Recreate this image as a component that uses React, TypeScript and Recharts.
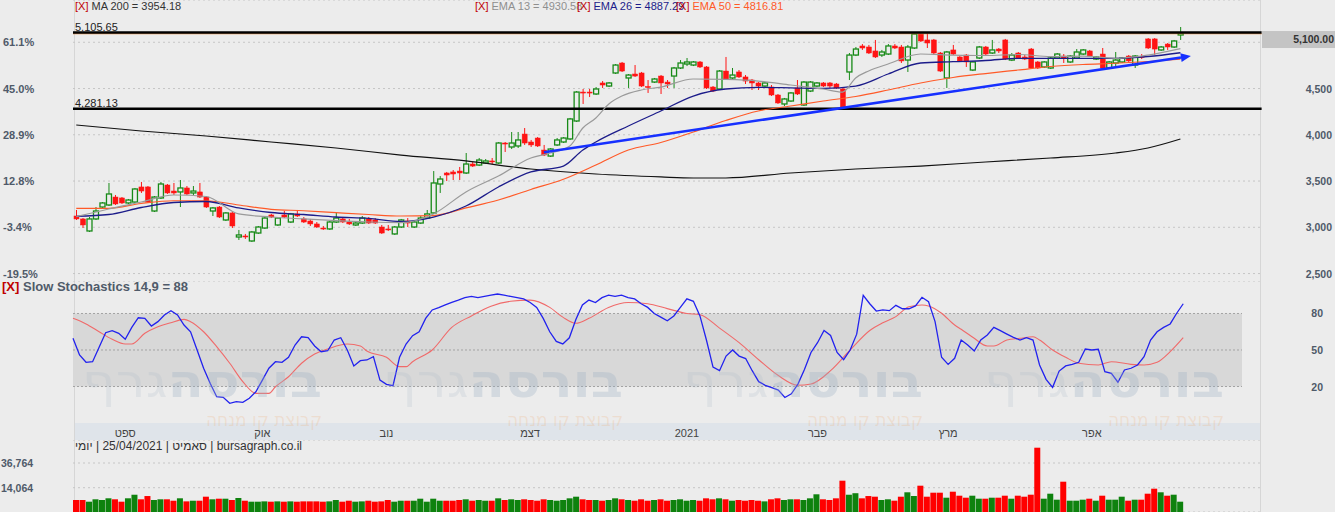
import {
  ComposedChart,
  Bar,
  Line,
  XAxis,
  YAxis,
  CartesianGrid,
  ReferenceLine,
  ReferenceArea,
} from "recharts";

const W = 1335;
const SLOTS = 183; // trading days + empty room on the right
const BG = "#ececec";
const UP = "#178a17";
const DOWN = "#ff1414";
const AXIS_TXT = "#4f5a69";
const FONT = "Arial, 'Liberation Sans', sans-serif";

// daily candles, one per trading day up to 25/04/2021
const OPEN = [
  3122, 3090, 2960, 3090, 3219, 3241, 3327, 3317, 3263, 3273,
  3436, 3436, 3176, 3317, 3457, 3392, 3382, 3425, 3371, 3382,
  3327, 3176, 3219, 3079, 3155, 2895, 2906, 2852, 2938, 2992,
  3133, 3025, 3133, 3057, 3144, 3090, 3068, 3036, 2992, 2982,
  3057, 3090, 3057, 3025, 3046, 3090, 3079, 3003, 2982, 2928,
  3003, 3068, 3003, 3046, 3100, 3155, 3468, 3587, 3598, 3608,
  3587, 3684, 3673, 3695, 3717, 3695, 3911, 3868, 3879, 4008,
  3922, 3965, 3835, 3770, 3890, 3922, 3955, 4149, 4462, 4462,
  4441, 4560, 4527, 4668, 4776, 4614, 4657, 4668, 4522, 4570,
  4635, 4570, 4635, 4722, 4765, 4754, 4787, 4733, 4516, 4495,
  4689, 4614, 4679, 4625, 4592, 4560, 4527, 4516, 4430, 4333,
  4365, 4506, 4322, 4473, 4527, 4560, 4560, 4549, 4495, 4679,
  4862, 4960, 4949, 4906, 4862, 4873, 4960, 4949, 4808, 4938,
  5089, 5025, 5025, 4884, 4614, 4917, 4841, 4862, 4700, 4830,
  4949, 4884, 4927, 5025, 4808, 4884, 4841, 4927, 4787, 4733,
  4722, 4830, 4851, 4787, 4830, 4873, 4906, 4819, 4873, 4722,
  4776, 4787, 4851, 4754, 4846, 5036, 5036, 4917, 4981, 4949,
  5079,
];
const HIGH = [
  3187, 3100, 3111, 3219, 3273, 3479, 3349, 3327, 3306, 3425,
  3490, 3446, 3338, 3490, 3468, 3479, 3511, 3446, 3446, 3479,
  3338, 3219, 3230, 3165, 3165, 2971, 2928, 2960, 3014, 3111,
  3144, 3111, 3176, 3155, 3187, 3111, 3090, 3057, 3014, 3068,
  3155, 3111, 3090, 3057, 3122, 3111, 3100, 3025, 3025, 3014,
  3090, 3100, 3068, 3122, 3187, 3608, 3554, 3598, 3619, 3652,
  3803, 3706, 3749, 3738, 3749, 3922, 3922, 4030, 4030, 4073,
  3944, 3976, 3890, 3857, 3965, 3976, 4182, 4473, 4495, 4495,
  4516, 4581, 4570, 4765, 4787, 4657, 4754, 4679, 4592, 4614,
  4646, 4592, 4733, 4808, 4830, 4797, 4797, 4743, 4527, 4700,
  4841, 4722, 4700, 4646, 4603, 4570, 4570, 4538, 4441, 4398,
  4462, 4592, 4581, 4581, 4570, 4570, 4570, 4560, 4506, 4884,
  4949, 4981, 4971, 5025, 4917, 4981, 4981, 4971, 4971, 5111,
  5111, 5100, 5036, 4895, 4906, 4971, 4851, 4873, 4797, 4960,
  4960, 5025, 4938, 5036, 4884, 4895, 4862, 4938, 4797, 4797,
  4841, 4884, 4873, 4862, 4927, 4927, 4917, 4851, 4938, 4797,
  4895, 4841, 4862, 4862, 4873, 5046, 5046, 4960, 4992, 5025,
  5165,
];
const LOW = [
  3079, 2992, 2949, 3079, 3209, 3230, 3241, 3252, 3252, 3263,
  3371, 3263, 3165, 3306, 3360, 3349, 3219, 3349, 3349, 3317,
  3209, 3122, 3100, 3068, 2992, 2863, 2874, 2841, 2928, 2982,
  3100, 3014, 3100, 3046, 3111, 3046, 3014, 2992, 2971, 2971,
  3046, 3046, 3025, 3014, 3036, 3036, 3036, 2928, 2960, 2917,
  2992, 3003, 2992, 3036, 3090, 3144, 3371, 3500, 3511, 3511,
  3576, 3652, 3662, 3684, 3684, 3684, 3814, 3846, 3857, 3890,
  3868, 3868, 3770, 3760, 3879, 3911, 3944, 4138, 4333, 4408,
  4430, 4506, 4516, 4657, 4679, 4506, 4625, 4516, 4452, 4560,
  4441, 4506, 4506, 4711, 4743, 4743, 4722, 4495, 4462, 4484,
  4592, 4603, 4614, 4549, 4484, 4484, 4516, 4419, 4333, 4311,
  4355, 4430, 4311, 4462, 4516, 4516, 4506, 4495, 4279, 4592,
  4851, 4917, 4873, 4830, 4841, 4862, 4927, 4776, 4679, 4927,
  5003, 4938, 4873, 4679, 4506, 4862, 4787, 4733, 4689, 4819,
  4862, 4873, 4884, 4808, 4797, 4819, 4808, 4711, 4711, 4722,
  4711, 4819, 4776, 4776, 4819, 4862, 4841, 4808, 4711, 4711,
  4722, 4776, 4787, 4722, 4819, 4927, 4862, 4906, 4917, 4938,
  5025,
];
const CLOSE = [
  3090, 3025, 3090, 3176, 3263, 3360, 3252, 3263, 3295, 3414,
  3392, 3273, 3327, 3468, 3371, 3371, 3425, 3360, 3392, 3327,
  3219, 3209, 3111, 3155, 3014, 2917, 2895, 2949, 3003, 3100,
  3111, 3100, 3111, 3144, 3122, 3057, 3036, 3003, 2987, 3057,
  3100, 3057, 3036, 3046, 3100, 3046, 3046, 2938, 2976, 3003,
  3079, 3046, 3057, 3100, 3144, 3479, 3522, 3565, 3576, 3587,
  3684, 3662, 3727, 3717, 3706, 3911, 3900, 3911, 3944, 3911,
  3890, 3879, 3781, 3846, 3944, 3965, 4171, 4462, 4452, 4452,
  4495, 4538, 4560, 4754, 4689, 4646, 4635, 4527, 4516, 4603,
  4560, 4549, 4722, 4776, 4787, 4787, 4733, 4506, 4473, 4689,
  4603, 4646, 4625, 4581, 4560, 4527, 4560, 4430, 4344, 4387,
  4452, 4441, 4570, 4570, 4560, 4527, 4527, 4506, 4290, 4862,
  4927, 4938, 4884, 4841, 4895, 4960, 4938, 4798, 4949, 5089,
  5014, 4992, 4884, 4689, 4895, 4873, 4798, 4787, 4787, 4949,
  4873, 4917, 4906, 4819, 4862, 4830, 4819, 4722, 4722, 4787,
  4830, 4873, 4830, 4851, 4895, 4917, 4851, 4841, 4722, 4787,
  4808, 4830, 4798, 4851, 4841, 4938, 4927, 4949, 4949, 5014,
  5100,
];
const VOLUME = [
  2760, 2760, 1200, 3400, 2760, 4320, 3400, 1200, 4320, 7600,
  3400, 6400, 2760, 3400, 3400, 2100, 4320, 1500, 2100, 2100,
  5800, 3400, 3950, 3950, 2760, 4600, 2100, 1200, 1200, 1500,
  1200, 1500, 1200, 1500, 1200, 1500, 1500, 1500, 1200, 1500,
  2760, 1200, 2100, 1200, 1500, 2100, 1200, 1500, 2760, 1200,
  2100, 2100, 2100, 3950, 1200, 3950, 2100, 2100, 2100, 2760,
  3400, 2100, 2760, 2100, 2100, 4300, 2760, 3400, 2760, 3400,
  2760, 2100, 3400, 2760, 2100, 2760, 4300, 5800, 3400, 2760,
  2760, 2100, 2760, 4300, 3400, 2760, 2100, 3400, 2100, 2760,
  3400, 2100, 2760, 3400, 2100, 2760, 2100, 4300, 3400, 4300,
  3400, 2100, 2760, 2100, 2760, 2100, 1500, 3400, 4300, 2760,
  3400, 3400, 2760, 4300, 8000, 3400, 2760, 4300, 20500, 7600,
  9000, 4300, 6400, 5800, 2760, 3400, 2120, 5790, 9840, 6440,
  15900, 5790, 9470, 9470, 4870, 10390, 6710, 4870, 6710, 3960,
  3960, 4870, 4870, 6710, 3960, 6710, 5790, 7630, 50820, 3960,
  8550, 3040, 19580, 2120, 2120, 3040, 3960, 2120, 6710, 3040,
  3040, 5790, 2120, 3040, 3040, 8550, 13150, 9840, 6710, 7630,
  1200,
];

// moving averages: [day index, value]
const MA200: [number, number][] = [
  [0, 4106], [10, 4041], [20, 3987], [30, 3922], [40, 3857], [50, 3781],
  [60, 3717], [70, 3630], [80, 3576], [90, 3544], [95, 3533], [100, 3533],
  [110, 3587], [120, 3630], [130, 3662], [140, 3706], [150, 3749],
  [160, 3803], [165, 3857], [170, 3954],
];
const EMA13: [number, number][] = [
  [0, 3115], [5, 3198], [10, 3273], [15, 3349], [20, 3333], [25, 3144],
  [30, 3111], [35, 3090], [40, 3071], [45, 3057], [50, 3050], [55, 3144],
  [60, 3382], [65, 3554], [70, 3749], [73, 3803], [76, 3879], [78, 4073],
  [80, 4181], [82, 4333], [84, 4419], [87, 4484], [90, 4516], [95, 4603],
  [100, 4598], [105, 4581], [110, 4538], [115, 4495], [118, 4462],
  [120, 4614], [122, 4690], [125, 4765], [130, 4873], [135, 4862],
  [140, 4857], [145, 4868], [150, 4846], [155, 4851], [160, 4827],
  [165, 4862], [170, 4931],
];
const EMA26: [number, number][] = [
  [0, 3119], [5, 3138], [10, 3214], [15, 3268], [20, 3279], [25, 3209],
  [30, 3160], [35, 3138], [40, 3111], [45, 3097], [50, 3063], [55, 3111],
  [60, 3230], [65, 3436], [70, 3598], [75, 3662], [78, 3836], [80, 3922],
  [85, 4095], [90, 4257], [95, 4419], [100, 4495], [105, 4513], [110, 4508],
  [115, 4502], [120, 4527], [125, 4657], [130, 4776], [135, 4790],
  [140, 4803], [145, 4827], [150, 4827], [155, 4827], [160, 4827],
  [165, 4846], [170, 4887],
];
const EMA50: [number, number][] = [
  [0, 3205], [5, 3205], [10, 3257], [15, 3287], [20, 3287], [25, 3241],
  [30, 3194], [35, 3179], [40, 3158], [45, 3138], [50, 3122], [55, 3127],
  [60, 3209], [65, 3295], [70, 3409], [75, 3519], [80, 3673], [85, 3836],
  [90, 3917], [95, 4030], [100, 4154], [105, 4257], [110, 4311],
  [115, 4365], [120, 4414], [125, 4484], [130, 4560], [135, 4619],
  [140, 4662], [145, 4700], [150, 4738], [155, 4760], [160, 4773],
  [165, 4792], [170, 4817],
];

// slow stochastics 14,9
const STOCH_K = [
  59.6, 45.9, 39.9, 40.4, 52.2, 64.2, 65.9, 63.7, 58.8, 68.6,
  76.5, 76, 69.7, 73.3, 78.8, 82.3, 78.8, 70.5, 65, 50,
  35, 22.6, 11.6, 11.1, 6.2, 7.5, 7, 10.3, 15.7, 25.3,
  35, 40.4, 39.9, 44, 54.1, 60.9, 60.1, 53.3, 48.6, 49.4,
  58.2, 60.1, 50, 36.9, 41.2, 41.8, 44.5, 25.3, 21.8, 20.7,
  44, 54.9, 61.8, 65, 76, 82.9, 84.8, 87, 89.2, 91,
  93, 94, 93, 94, 95, 96, 95, 94, 93, 92,
  89, 85, 76, 65, 57, 55, 60, 75, 87, 91,
  89, 93, 95, 94, 95, 93, 92, 88, 85, 80,
  77, 74, 78, 85, 92, 90, 78, 58, 36, 33,
  45, 50, 45, 43, 33, 24, 21, 19, 17, 11,
  14, 22, 34, 48, 56, 66, 62, 48, 42, 50,
  63, 95, 88, 82, 82.9, 82.3, 86.7, 83.9, 83.9, 86.2,
  93.3, 89.7, 73.3, 44, 38.2, 43.2, 58.2, 54.1, 49.2, 58.2,
  62.3, 68.6, 65.9, 63.1, 60.4, 58.2, 60.1, 58.2, 37.7, 25.9,
  19.3, 32.7, 36.9, 38.2, 39.9, 50.8, 50, 50.6, 32.2, 30.9,
  23.5, 33.6, 35, 37.7, 44.5, 58.2, 65, 68.6, 71.4, 80.2,
  88,
];
const STOCH_D: [number, number][] = [
  [0, 76], [2, 71.4], [4, 65], [6, 58.8], [8, 54.9], [9, 54.9], [11, 63.7],
  [13, 69.1], [15, 72.4], [17, 75.2], [18, 73.3], [20, 65], [22, 52.7],
  [24, 39.1], [26, 24], [28, 14.4], [30, 14.4], [31, 19.8], [33, 28],
  [35, 39.1], [37, 46.7], [39, 50.8], [42, 54.9], [44, 53.3], [45, 49.2],
  [48, 44], [50, 36.3], [51, 36.3], [52, 40.4], [55, 50], [58, 68.6],
  [61, 78], [64, 86], [67, 90], [70, 91], [73, 85], [75, 77], [77, 72],
  [79, 76], [82, 85], [85, 89], [88, 88], [91, 84], [94, 80], [96, 79],
  [99, 68], [102, 56], [105, 42], [108, 29], [111, 21], [113, 22],
  [116, 33], [119, 50], [122, 66], [124, 72.4], [126, 77.4], [128, 85.6],
  [130, 87], [131, 86.2], [133, 80.2], [135, 70.5], [136, 67], [138, 59.6],
  [140, 53.3], [141, 53.3], [143, 58.2], [145, 59.6], [147, 60.9],
  [148, 58.2], [150, 50], [152, 44], [154, 39.1], [157, 37.7], [159, 40.4],
  [162, 38.2], [164, 37.7], [166, 39.9], [168, 48.6], [170, 60.1],
];

const MONTH_IDX = [8, 29, 48, 70, 94, 114, 134, 156];
const MONTH_LABEL = ["ספט", "אוק", "נוב", "דצמ", "2021", "פבר", "מרץ", "אפר"];

const PRICE_TICKS = [2500, 3000, 3500, 4000, 4500, 5000];
const RIGHT_TICKS = [2500, 3000, 3500, 4000, 4500];
const BASE = 3104; // reference close for the % scale
const LAST = 5100;
const RESIST = 5105.65;
const SUPPORT = 4281.13;
const RESIST_SHADOW = 5092;
const TREND: [number, number][] = [[72, 3811], [171, 4844]];
const STOCH_TICKS = [20, 50, 80];
const VOL_TICKS = [14064, 36764];

const PRICE_DOMAIN: [number, number] = [2408.5, 5457];
const STOCH_DOMAIN: [number, number] = [-9.98, 105.87];
const VOL_FLOOR = -8269;
const VOL_DOMAIN: [number, number] = [VOL_FLOOR, 57902];

type Row = { i: number; [k: string]: number | undefined };
const rows: Row[] = Array.from({ length: SLOTS }, (_, i) => {
  const r: Row = { i };
  if (i < CLOSE.length) {
    r.o = OPEN[i];
    r.h = HIGH[i];
    r.l = LOW[i];
    r.c = CLOSE[i];
    r.v = VOLUME[i];
    r.k = STOCH_K[i];
  }
  return r;
});
const put = (pts: [number, number][], key: string) =>
  pts.forEach(([i, v]) => {
    rows[i][key] = v;
  });
put(MA200, "ma200");
put(EMA13, "ema13");
put(EMA26, "ema26");
put(EMA50, "ema50");
put(STOCH_D, "d");

const pct = (p: number) => `${((p / BASE - 1) * 100).toFixed(1)}%`;
const num = (p: number, d = 0) =>
  p.toLocaleString("en-US", { minimumFractionDigits: d, maximumFractionDigits: d });

function Candle(props: any) {
  const { x, y, width, height, payload } = props;
  if (!payload || payload.h == null) return null;
  const { o, h, l, c } = payload;
  const k = height / (h - l || 1);
  const cx = x + width / 2;
  const up = c >= o;
  const top = y + (h - Math.max(o, c)) * k;
  const bot = y + (h - Math.min(o, c)) * k;
  const col = up ? UP : DOWN;
  return (
    <g>
      <line x1={cx} x2={cx} y1={y} y2={y + height} stroke={col} strokeWidth={1} />
      <rect
        x={x}
        y={top}
        width={width}
        height={Math.max(1, bot - top)}
        fill={up ? BG : DOWN}
        stroke={col}
        strokeWidth={up ? 1.3 : 0.5}
      />
    </g>
  );
}

function VolBar(props: any) {
  const { x, y, width, height, payload } = props;
  if (!payload || payload.v == null) return null;
  return (
    <rect
      x={x}
      y={y}
      width={width}
      height={height}
      fill={payload.c >= payload.o ? "#0e820e" : "#ff0000"}
    />
  );
}

function TrendArrow(props: any) {
  const { x1, y1, x2, y2 } = props;
  const a = Math.atan2(y2 - y1, x2 - x1);
  const tx = x2 + 4 * Math.cos(a);
  const ty = y2 + 4 * Math.sin(a);
  const bx = tx - 10 * Math.cos(a);
  const by = ty - 10 * Math.sin(a);
  const hw = 4.5;
  return (
    <g>
      <line x1={x1} y1={y1} x2={bx} y2={by} stroke="#1630ff" strokeWidth={2.6} />
      <polygon
        points={`${tx},${ty} ${bx + hw * Math.sin(a)},${by - hw * Math.cos(a)} ${bx - hw * Math.sin(a)},${by + hw * Math.cos(a)}`}
        fill="#1630ff"
      />
    </g>
  );
}

const LeftPctTick = (p: any) => (
  <text x={3} y={p.y + 4} fontSize={11} fontWeight={600} fill={AXIS_TXT} textAnchor="start">
    {pct(p.payload.value)}
  </text>
);

const RightPriceTick = (p: any) => {
  const v = p.payload.value;
  if (v === LAST) {
    return (
      <g>
        <rect x={1262} y={p.y - 2} width={73} height={17} fill="#c4c4c4" />
        <text x={1334} y={p.y + 10} fontSize={10.5} fontWeight={600} fill="#333" textAnchor="end">
          {num(v, 2)}
        </text>
      </g>
    );
  }
  return (
    <text x={1332} y={p.y + 4} fontSize={10.5} fontWeight={600} fill={AXIS_TXT} textAnchor="end">
      {num(v)}
    </text>
  );
};

const StochTick = (p: any) => (
  <text x={1323} y={p.y + 4} fontSize={10.5} fontWeight={600} fill={AXIS_TXT} textAnchor="end">
    {p.payload.value}
  </text>
);

const VolTick = (p: any) => (
  <text x={1} y={p.y + 4} fontSize={10.5} fontWeight={600} fill={AXIS_TXT} textAnchor="start">
    {num(p.payload.value)}
  </text>
);

const MonthTick = (p: any) => {
  const k = MONTH_IDX.indexOf(p.payload.value);
  if (k < 0) return <g />;
  return (
    <text x={p.x} y={155} fontSize={11} fill="#444" textAnchor="middle">
      {MONTH_LABEL[k]}
    </text>
  );
};

const WATERMARKS = [202, 503, 803, 1104];

export default function App() {
  const noMargin = { top: 0, right: 0, bottom: 0, left: 0 };
  return (
    <div
      style={{
        position: "relative",
        width: W,
        height: 512,
        overflow: "hidden",
        background: BG,
        fontFamily: FONT,
      }}
    >
      <style>{`body{margin:0}`}</style>

      {/* month strip and panel separators */}
      <div style={{ position: "absolute", left: 75, top: 423, width: 1185, height: 17, background: "#dfe4ea" }} />
      <div style={{ position: "absolute", left: 74, top: 0, width: 1, height: 512, background: "#d6d6d6" }} />
      <div style={{ position: "absolute", left: 1260, top: 0, width: 1, height: 512, background: "#d6d6d6" }} />

      {/* price panel */}
      <div style={{ position: "absolute", left: 0, top: 0 }}>
        <ComposedChart width={W} height={282} data={rows} margin={noMargin}>
          <XAxis dataKey="i" hide />
          <YAxis
            yAxisId="l"
            orientation="left"
            width={73}
            domain={PRICE_DOMAIN}
            allowDataOverflow
            ticks={PRICE_TICKS}
            interval={0}
            axisLine={false}
            tickLine={false}
            tick={LeftPctTick}
          />
          <YAxis
            yAxisId="r"
            orientation="right"
            width={73.4}
            domain={PRICE_DOMAIN}
            allowDataOverflow
            ticks={[...RIGHT_TICKS, LAST]}
            interval={0}
            axisLine={false}
            tickLine={false}
            tick={RightPriceTick}
          />
          <CartesianGrid yAxisId="l" vertical={false} stroke="#c6c6c6" strokeDasharray="2 3" />
          <ReferenceLine yAxisId="l" y={RESIST_SHADOW} stroke="#e8893a" strokeWidth={1} />
          <ReferenceLine
            yAxisId="l"
            y={RESIST}
            stroke="#000"
            strokeWidth={2.5}
            label={{ value: num(RESIST, 2), position: "insideBottomLeft", offset: 2, fill: "#222", fontSize: 11 }}
          />
          <ReferenceLine
            yAxisId="l"
            y={SUPPORT}
            stroke="#000"
            strokeWidth={2.5}
            label={{ value: num(SUPPORT, 2), position: "insideBottomLeft", offset: 2, fill: "#222", fontSize: 11 }}
          />
          <Line yAxisId="l" dataKey="ma200" type="monotone" stroke="#111" strokeWidth={1.2} dot={false} activeDot={false} connectNulls isAnimationActive={false} />
          <Line yAxisId="l" dataKey="ema50" type="monotone" stroke="#ff5a28" strokeWidth={1.2} dot={false} activeDot={false} connectNulls isAnimationActive={false} />
          <Line yAxisId="l" dataKey="ema26" type="monotone" stroke="#1c1c8a" strokeWidth={1.3} dot={false} activeDot={false} connectNulls isAnimationActive={false} />
          <Line yAxisId="l" dataKey="ema13" type="monotone" stroke="#9a9a9a" strokeWidth={1.2} dot={false} activeDot={false} connectNulls isAnimationActive={false} />
          <Bar
            yAxisId="l"
            dataKey={(d: any) => (d.h == null ? null : [d.l, d.h])}
            barSize={5}
            shape={Candle}
            isAnimationActive={false}
          />
          <ReferenceLine
            yAxisId="l"
            segment={[
              { x: TREND[0][0], y: TREND[0][1] },
              { x: TREND[1][0], y: TREND[1][1] },
            ]}
            stroke="#1630ff"
            strokeWidth={2.6}
            ifOverflow="visible"
            shape={TrendArrow}
          />
        </ComposedChart>
      </div>

      {/* stochastics panel + month axis */}
      <div style={{ position: "absolute", left: 0, top: 282 }}>
        <ComposedChart width={W} height={158} data={rows} margin={{ top: 0, right: 0, bottom: 0, left: 73 }}>
          <XAxis dataKey="i" height={17} interval={0} axisLine={false} tickLine={false} tick={MonthTick} />
          <YAxis
            yAxisId="s"
            orientation="right"
            width={73.4}
            domain={STOCH_DOMAIN}
            allowDataOverflow
            ticks={STOCH_TICKS}
            interval={0}
            axisLine={false}
            tickLine={false}
            tick={StochTick}
          />
          <ReferenceArea yAxisId="s" x1={0} x2={179} y1={20} y2={80} fill="#d8d8d8" fillOpacity={1} stroke="none" />
          {STOCH_TICKS.map((t) => (
            <ReferenceLine
              key={t}
              yAxisId="s"
              segment={[
                { x: 0, y: t },
                { x: 179, y: t },
              ]}
              stroke="#a3a3a3"
              strokeDasharray="2 2"
            />
          ))}
          <Line yAxisId="s" dataKey="d" type="monotone" stroke="#f06a6a" strokeWidth={1.1} dot={false} activeDot={false} connectNulls isAnimationActive={false} />
          <Line yAxisId="s" dataKey="k" type="linear" stroke="#2222ee" strokeWidth={1.3} dot={false} activeDot={false} isAnimationActive={false} />
        </ComposedChart>
      </div>

      {/* volume panel */}
      <div style={{ position: "absolute", left: 0, top: 440 }}>
        <ComposedChart width={W} height={72} data={rows} margin={{ top: 0, right: 73.4, bottom: 0, left: 0 }}>
          <XAxis dataKey="i" hide />
          <YAxis
            yAxisId="v"
            orientation="left"
            width={73}
            domain={VOL_DOMAIN}
            allowDataOverflow
            ticks={VOL_TICKS}
            interval={0}
            axisLine={false}
            tickLine={false}
            tick={VolTick}
          />
          <CartesianGrid yAxisId="v" vertical={false} stroke="#c6c6c6" strokeDasharray="2 3" />
          <Bar
            yAxisId="v"
            dataKey={(d: any) => (d.v == null ? null : [VOL_FLOOR, d.v])}
            barSize={6}
            shape={VolBar}
            isAnimationActive={false}
          />
        </ComposedChart>
      </div>

      {/* watermarks */}
      <svg width={W} height={512} style={{ position: "absolute", left: 0, top: 0, pointerEvents: "none" }}>
        {WATERMARKS.map((cx) => (
          <g key={cx}>
            <text
              x={cx}
              y={397}
              fontSize={46}
              fontWeight="bold"
              textAnchor="middle"
              textLength={240}
              lengthAdjust="spacingAndGlyphs"
              fontFamily="'DejaVu Sans', Arial, sans-serif"
            >
              <tspan fill="rgb(160,178,196)" fillOpacity={0.32}>בורסה</tspan>
              <tspan fill="rgb(170,185,200)" fillOpacity={0.2} fontWeight="normal">גרף</tspan>
            </text>
            <text
              x={cx + 62}
              y={426}
              fontSize={19}
              textAnchor="middle"
              textLength={116}
              lengthAdjust="spacingAndGlyphs"
              fill="rgb(240,170,110)"
              fillOpacity={0.22}
              fontFamily="'DejaVu Sans', Arial, sans-serif"
            >
              קבוצת קו מנחה
            </text>
          </g>
        ))}
      </svg>

      {/* legends */}
      <div style={{ position: "absolute", left: 75, top: 0, fontSize: 11, lineHeight: "13px", whiteSpace: "nowrap" }}>
        <span style={{ color: "#c00000" }}>[X]</span> <span style={{ color: "#333" }}>MA 200 = 3954.18</span>
      </div>
      <div style={{ position: "absolute", left: 475, top: 0, fontSize: 11, lineHeight: "13px", whiteSpace: "nowrap" }}>
        <span style={{ color: "#c00000" }}>[X]</span> <span style={{ color: "#8f8f8f" }}>EMA 13 = 4930.58</span>
      </div>
      <div style={{ position: "absolute", left: 577, top: 0, fontSize: 11, lineHeight: "13px", whiteSpace: "nowrap" }}>
        <span style={{ color: "#c00000" }}>[X]</span> <span style={{ color: "#1c1c8a" }}>EMA 26 = 4887.29</span>
      </div>
      <div style={{ position: "absolute", left: 676, top: 0, fontSize: 11, lineHeight: "13px", whiteSpace: "nowrap" }}>
        <span style={{ color: "#c00000" }}>[X]</span> <span style={{ color: "#ff5a28" }}>EMA 50 = 4816.81</span>
      </div>
      <div
        style={{
          position: "absolute",
          left: 2,
          top: 279,
          fontSize: 13,
          fontWeight: 600,
          lineHeight: "15px",
          color: AXIS_TXT,
          whiteSpace: "nowrap",
        }}
      >
        <span style={{ color: "#c00000" }}>[X]</span> Slow Stochastics 14,9 = 88
      </div>
      <div
        style={{
          position: "absolute",
          left: 75,
          top: 439,
          fontSize: 12,
          lineHeight: "14px",
          color: "#333",
          whiteSpace: "nowrap",
          direction: "ltr",
        }}
      >
        <bdi>יומי</bdi> | 25/04/2021 | <bdi>סאמיט</bdi> | bursagraph.co.il
      </div>
    </div>
  );
}
